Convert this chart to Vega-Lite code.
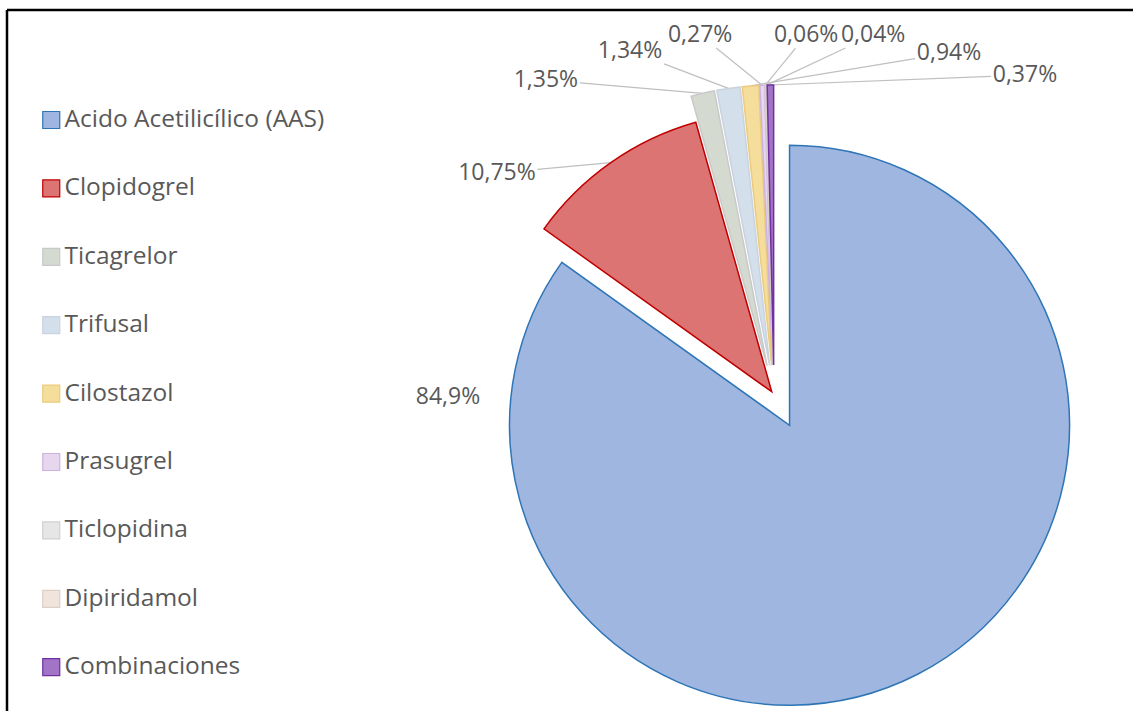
{
  "$schema": "https://vega.github.io/schema/vega-lite/v6.json",
  "width": 1126,
  "height": 701,
  "autosize": "none",
  "padding": {"left": 7, "top": 10, "right": 0, "bottom": 0},
  "background": "white",
  "config": {"view": {"stroke": null}, "font": "Open Sans"},
  "datasets": {
    "drugs": [
      {"i": 0, "drug": "Acido Acetilicílico (AAS)", "pct": 84.9},
      {"i": 1, "drug": "Clopidogrel", "pct": 10.75},
      {"i": 2, "drug": "Ticagrelor", "pct": 1.35},
      {"i": 3, "drug": "Trifusal", "pct": 1.34},
      {"i": 4, "drug": "Cilostazol", "pct": 0.94},
      {"i": 5, "drug": "Prasugrel", "pct": 0.27},
      {"i": 6, "drug": "Ticlopidina", "pct": 0.06},
      {"i": 7, "drug": "Dipiridamol", "pct": 0.04},
      {"i": 8, "drug": "Combinaciones", "pct": 0.37}
    ]
  },
  "layer": [
    {
      "data": {"values": [{}]},
      "mark": {"type": "rule", "color": "black", "strokeWidth": 2.5},
      "encoding": {"x": {"value": 0}, "y": {"value": 0}, "x2": {"value": "width"}}
    },
    {
      "data": {"values": [{}]},
      "mark": {"type": "rule", "color": "black", "strokeWidth": 2.5},
      "encoding": {"x": {"value": 0}, "y": {"value": 0}, "y2": {"value": "height"}}
    },
    {
      "data": {"name": "drugs"},
      "transform": [
        {"joinaggregate": [{"op": "sum", "field": "pct", "as": "tot"}]},
        {"stack": "pct", "groupby": [], "sort": [{"field": "i", "order": "ascending"}], "as": ["s0", "s1"]},
        {"calculate": "PI*(datum.s0+datum.s1)/datum.tot", "as": "mid"},
        {"calculate": "(datum.i==0?34:datum.i==1?4:30)+280", "as": "sr"},
        {"calculate": "767+datum.sr*sin(datum.mid)", "as": "sx"},
        {"calculate": "385-datum.sr*cos(datum.mid)", "as": "sy"},
        {"calculate": "replace(toString(datum.pct), '.', ',') + '%'", "as": "lab"},
        {"calculate": "datum.i==0?269.65:datum.i==1?308.7:datum.i==2?324.1:datum.i==3?337.3:datum.i==4?27.1:datum.i==5?348.4:datum.i==6?5.1:datum.i==7?15.4:38.1", "as": "la"},
        {"calculate": "datum.i==0?326:datum.i==1?355:datum.i==2?389:datum.i==3?373:datum.i==4?384.2:datum.i==5?367.5:datum.i==6?361.4:datum.i==7?373.4:406.7", "as": "lr"},
        {"calculate": "datum.la*PI/180", "as": "lt"},
        {"calculate": "767+datum.lr*sin(datum.lt)", "as": "lx"},
        {"calculate": "385-datum.lr*cos(datum.lt)", "as": "ly"},
        {"calculate": "sqrt(pow(datum.sx-datum.lx,2)+pow(datum.sy-datum.ly,2))", "as": "len"},
        {"calculate": "(datum.sx-datum.lx)/datum.len", "as": "ux"},
        {"calculate": "(datum.sy-datum.ly)/datum.len", "as": "uy"},
        {"calculate": "min((6.4*length(datum.lab)+2)/max(abs(datum.ux),0.001), 13/max(abs(datum.uy),0.001))", "as": "t"},
        {"calculate": "datum.lx+datum.t*datum.ux", "as": "bx"},
        {"calculate": "datum.ly+datum.t*datum.uy", "as": "by"},
        {"filter": "datum.i>0"}
      ],
      "mark": {"type": "rule", "color": "#BFBFBF", "strokeWidth": 1.2},
      "encoding": {
        "x": {"field": "bx", "type": "quantitative", "scale": null},
        "y": {"field": "by", "type": "quantitative", "scale": null},
        "x2": {"field": "sx"},
        "y2": {"field": "sy"}
      }
    },
    {
      "data": {"name": "drugs"},
      "transform": [
        {"joinaggregate": [{"op": "sum", "field": "pct", "as": "tot"}]},
        {"stack": "pct", "groupby": [], "sort": [{"field": "i", "order": "ascending"}], "as": ["s0", "s1"]},
        {"calculate": "2*PI*datum.s0/datum.tot", "as": "a0"},
        {"calculate": "2*PI*datum.s1/datum.tot", "as": "a1"},
        {"calculate": "datum.i==0?34:datum.i==1?4:30", "as": "ex"},
        {"calculate": "datum.ex*sin((datum.a0+datum.a1)/2)", "as": "dx"},
        {"calculate": "-datum.ex*cos((datum.a0+datum.a1)/2)", "as": "dy"}
      ],
      "mark": {"type": "arc", "x": 767, "y": 385, "radius": 280, "strokeWidth": 1.5},
      "encoding": {
        "theta": {"field": "a0", "type": "quantitative", "scale": null},
        "theta2": {"field": "a1"},
        "xOffset": {"field": "dx", "type": "quantitative", "scale": null},
        "yOffset": {"field": "dy", "type": "quantitative", "scale": null},
        "fill": {
          "field": "drug",
          "type": "nominal",
          "scale": {
            "domain": ["Acido Acetilicílico (AAS)", "Clopidogrel", "Ticagrelor", "Trifusal", "Cilostazol", "Prasugrel", "Ticlopidina", "Dipiridamol", "Combinaciones"],
            "range": ["#9FB6E0", "#DC7474", "#D5DAD0", "#D4DFEC", "#F5DD9C", "#E6D6EE", "#E6E6E6", "#F0E4DC", "#A274C6"]
          },
          "legend": {"orient": "none", "legendX": 32, "legendY": 97.75, "title": null, "symbolType": "square", "symbolSize": 289, "labelFont": "Open Sans", "labelFontSize": 24.5, "labelColor": "#595959", "rowPadding": 43.4, "labelOffset": 1, "padding": 0, "symbolStrokeWidth": 1.2, "labelLimit": 400}
        },
        "stroke": {
          "field": "drug",
          "type": "nominal",
          "scale": {
            "domain": ["Acido Acetilicílico (AAS)", "Clopidogrel", "Ticagrelor", "Trifusal", "Cilostazol", "Prasugrel", "Ticlopidina", "Dipiridamol", "Combinaciones"],
            "range": ["#2E75B6", "#C00000", "#C9C9C9", "#C9D3DE", "#EBCB7E", "#CDB2DE", "#D0D0D0", "#DCCFC6", "#7030A0"]
          },
          "legend": {"orient": "none", "legendX": 32, "legendY": 97.75, "title": null, "symbolType": "square", "symbolSize": 289, "labelFont": "Open Sans", "labelFontSize": 24.5, "labelColor": "#595959", "rowPadding": 43.4, "labelOffset": 1, "padding": 0, "symbolStrokeWidth": 1.2, "labelLimit": 400}
        }
      }
    },
    {
      "data": {"name": "drugs"},
      "transform": [
        {"calculate": "replace(toString(datum.pct), '.', ',') + '%'", "as": "lab"},
        {"calculate": "datum.i==0?269.65:datum.i==1?308.7:datum.i==2?324.1:datum.i==3?337.3:datum.i==4?27.1:datum.i==5?348.4:datum.i==6?5.1:datum.i==7?15.4:38.1", "as": "la"},
        {"calculate": "datum.i==0?326:datum.i==1?355:datum.i==2?389:datum.i==3?373:datum.i==4?384.2:datum.i==5?367.5:datum.i==6?361.4:datum.i==7?373.4:406.7", "as": "lr"},
        {"calculate": "datum.la*PI/180", "as": "lt"}
      ],
      "mark": {"type": "text", "x": 767, "y": 385, "font": "Open Sans", "fontSize": 23, "color": "#595959", "align": "center", "baseline": "middle"},
      "encoding": {
        "theta": {"field": "lt", "type": "quantitative", "scale": null, "stack": null},
        "radius": {"field": "lr", "type": "quantitative", "scale": null},
        "text": {"field": "lab"}
      }
    }
  ]
}
